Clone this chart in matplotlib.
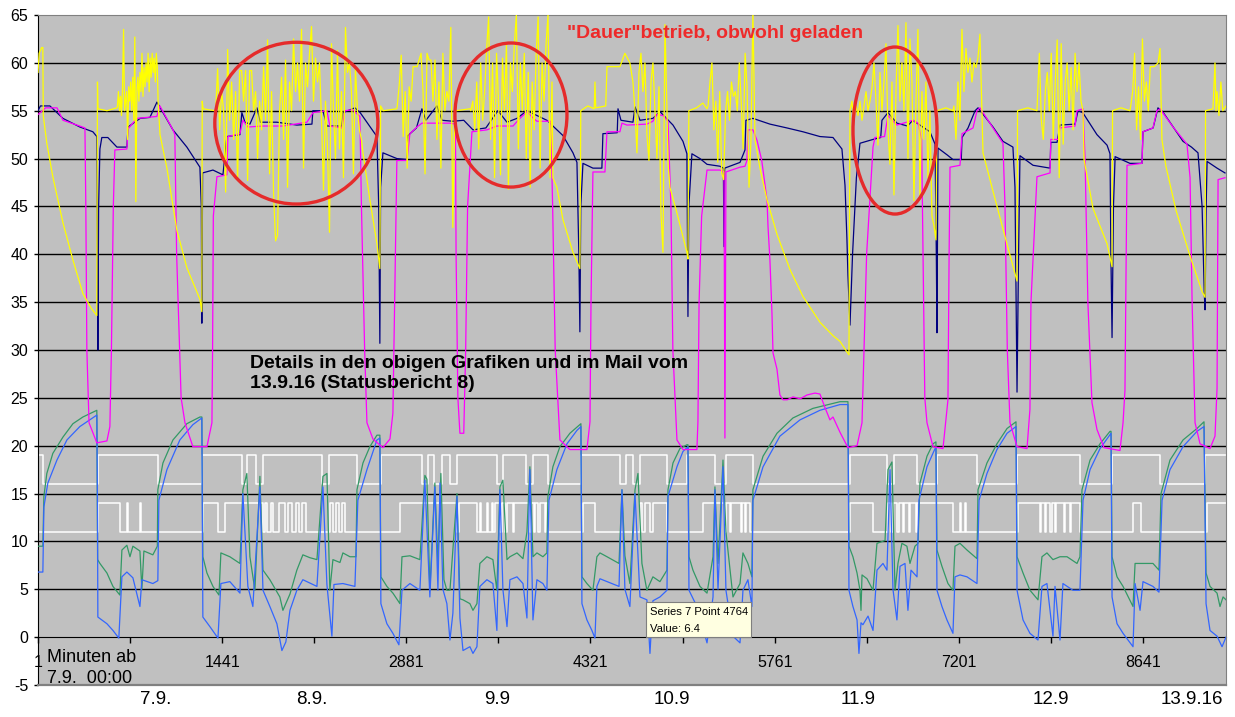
import numpy as np
import matplotlib
matplotlib.use("Agg")
import matplotlib.pyplot as plt
from matplotlib.patches import Ellipse, Rectangle
from matplotlib.transforms import blended_transform_factory

plt.rcParams['font.family'] = ['Liberation Sans', 'DejaVu Sans']

# ---------------- data (minutes since 7.9. 00:00, values) ----------------
x_tick_minutes = [1, 1441, 2881, 4321, 5761, 7201, 8641]
x_minor_minutes = [721, 2161, 3601, 5041, 6481, 7921]
y_ticks = list(range(-5, 70, 5))
date_labels = ["7.9.", "8.9.", "9.9", "10.9", "11.9", "12.9", "13.9.16"]
date_label_minutes = [923, 2143, 3590, 4960, 6413, 7922, 9025]

navy = [(1,55.0),(20,55.5),(94,55.5),(196,54.2),(328,53.3),(430,52.8),(461,52.3),(466,40.0),(469,30.0),(475,45.0),(485,51.0),(500,52.2),(547,52.2),(618,51.2),(696,51.2),(705,53.3),(800,54.2),(876,54.3),(931,55.9),(1056,53.0),(1165,51.2),(1267,49.1),(1278,45.0),(1282,32.8),(1288,48.5),(1369,48.8),(1447,48.3),(1478,52.3),(1580,52.5),(1595,54.8),(1619,53.8),(1658,53.6),(1713,55.3),(1740,53.8),(1869,53.8),(2025,53.5),(2143,53.6),(2150,55.0),(2229,55.0),(2260,53.4),(2377,53.4),(2385,54.8),(2479,55.3),(2520,54.8),(2651,52.3),(2665,45.0),(2674,30.7),(2680,47.0),(2698,50.6),(2807,50.0),(2886,49.9),(2893,52.4),(2960,53.2),(3003,55.2),(3034,54.0),(3120,55.5),(3160,54.0),(3245,53.9),(3330,54.0),(3402,53.0),(3503,53.2),(3597,55.0),(3668,53.8),(3746,54.2),(3824,55.0),(3980,54.0),(4106,52.4),(4184,50.6),(4215,49.6),(4230,40.0),(4238,31.9),(4245,45.0),(4262,49.5),(4340,49.0),(4410,49.0),(4418,52.6),(4530,52.7),(4536,55.2),(4559,54.0),(4653,53.8),(4669,55.4),(4708,54.0),(4809,54.2),(4864,54.9),(4966,53.5),(5044,51.8),(5075,50.5),(5080,40.0),(5083,33.5),(5090,45.0),(5114,50.5),(5177,50.0),(5232,49.4),(5333,49.2),(5360,49.0),(5365,40.8),(5370,49.0),(5490,49.6),(5529,50.9),(5536,54.0),(5591,54.2),(5724,53.6),(5857,53.2),(5982,52.8),(6115,52.3),(6217,52.2),(6287,51.0),(6311,47.2),(6326,41.6),(6334,37.8),(6350,32.6),(6370,40.0),(6400,48.0),(6428,51.6),(6530,52.0),(6590,52.2),(6600,54.0),(6647,54.8),(6717,53.7),(6800,53.4),(6840,54.0),(6897,53.5),(6975,52.8),(7015,51.5),(7025,40.0),(7030,31.8),(7035,45.0),(7038,51.1),(7108,50.4),(7155,49.9),(7220,49.9),(7226,52.2),(7273,53.2),(7328,55.0),(7351,55.3),(7468,53.3),(7546,51.8),(7624,51.2),(7640,47.0),(7656,25.6),(7668,40.0),(7679,50.3),(7781,49.3),(7914,49.0),(7920,51.7),(7969,51.7),(7992,53.5),(8110,53.6),(8133,55.0),(8170,54.8),(8281,52.5),(8360,51.4),(8383,50.5),(8390,40.0),(8399,31.3),(8410,45.0),(8423,50.2),(8539,49.5),(8633,49.5),(8641,52.8),(8720,53.2),(8758,55.3),(8800,54.8),(8954,51.8),(9020,51.2),(9071,50.6),(9103,45.0),(9120,36.0),(9126,34.2),(9135,45.0),(9142,49.7),(9220,49.0),(9282,48.5)]

magenta = [(1,54.6),(60,55.3),(150,55.3),(196,54.0),(328,53.4),(368,53.2),(375,45),(383,30),(400,22.4),(461,20.3),(540,20.5),(563,22),(575,30),(590,45),(602,50.9),(696,51.0),(705,53.1),(774,54.2),(930,54.4),(954,55.5),(1056,53.0),(1071,52.5),(1085,40),(1120,25),(1150,22.4),(1212,19.9),(1322,19.9),(1361,22.4),(1366,30),(1372,44),(1400,48.1),(1478,48.3),(1486,52.3),(1580,52.6),(1603,54.0),(1642,53.3),(1760,53.4),(1916,53.4),(2104,53.8),(2151,54.8),(2260,55.0),(2283,53.4),(2377,53.2),(2401,55.0),(2460,55.1),(2518,54.4),(2530,45),(2555,30),(2573,22.4),(2620,20.7),(2698,19.8),(2753,20.7),(2776,23.4),(2790,35),(2807,49.8),(2886,49.8),(2909,52.6),(2964,53.3),(3003,53.7),(3222,53.7),(3265,53.6),(3270,40),(3284,25),(3300,21.3),(3330,21.3),(3345,30),(3360,45),(3394,52.8),(3511,53.0),(3589,53.4),(3715,53.4),(3769,54.2),(3824,54.9),(3860,54.4),(3902,53.9),(4010,53.9),(4025,45),(4045,30),(4082,20.6),(4160,19.6),(4293,19.6),(4317,22.5),(4325,35),(4340,48.6),(4434,48.6),(4450,52.8),(4551,52.8),(4567,53.7),(4606,53.5),(4762,53.6),(4809,53.9),(4840,54.6),(4888,54.5),(4927,53.9),(4950,45),(4965,30),(4997,20.6),(5044,19.6),(5153,19.6),(5161,22.5),(5170,35),(5190,44),(5232,48.8),(5333,48.8),(5365,48.6),(5372,20.8),(5380,48.6),(5490,49.1),(5529,49.2),(5544,49.8),(5552,53.0),(5591,53.0),(5623,51.9),(5660,49.8),(5701,45.7),(5709,42.9),(5724,39.4),(5740,33.8),(5748,29.7),(5779,28.0),(5802,25.3),(5826,24.8),(5860,24.8),(5904,25.1),(5960,24.9),(6014,25.3),(6076,25.5),(6115,25.4),(6154,24.0),(6193,22.7),(6217,23.0),(6272,21.4),(6311,20.4),(6334,19.8),(6405,20.0),(6444,22.4),(6451,25.8),(6480,40),(6530,51.2),(6545,52.2),(6620,52.3),(6647,54.5),(6717,53.5),(6842,54.0),(6882,53.7),(6910,52),(6921,40),(6935,25),(6952,22.4),(6999,19.9),(7077,19.7),(7116,24.8),(7125,40),(7132,49.1),(7210,49.3),(7226,52.6),(7312,53.2),(7343,55.0),(7366,55.3),(7546,51.6),(7562,45),(7580,30),(7601,22.4),(7656,19.9),(7734,19.7),(7757,23.8),(7765,35),(7812,48.1),(7914,48.5),(7920,52.0),(7977,52.0),(7992,53.2),(8109,53.4),(8125,55.0),(8172,55.2),(8188,50),(8210,35),(8242,24.5),(8281,21.7),(8336,19.8),(8461,19.5),(8485,22.4),(8500,25.8),(8510,40),(8516,49.3),(8633,49.5),(8641,52.8),(8719,53.2),(8750,55.0),(8774,55.2),(8876,53.3),(8985,51.5),(9009,48),(9025,35),(9048,22.4),(9087,20.2),(9165,19.7),(9204,21.0),(9220,26),(9225,40),(9228,47.8),(9282,48.0)]

# yellow: smooth parts as (minute, value), noisy bursts as equally sampled values
yellow_a = [(1,59.0),(10,61.0),(30,61.6),(39,61.6),(42,54.5),(70,51.6),(117,48.1),(196,43.3),(274,39.4),(352,35.9),(420,34.3),(461,33.6),(466,58.0),(470,55.2),(540,55.0),(618,55.3)]
yellow_burst1 = (622, 934, [55.5,57.0,55.0,56.5,54.5,57.5,63.5,55.0,56.0,57.0,52.0,57.5,56.0,58.0,55.0,58.5,54.0,62.7,45.5,57.0,58.5,56.0,59.0,57.0,61.0,56.5,59.5,57.5,60.0,58.0,61.0,57.0,60.5,58.5,61.0,59.0,60.5,58.0,61.0,59.5])
yellow_b = [(940,56),(955,52.5),(1009,49.0),(1087,42.5),(1165,38.6),(1230,36.5),(1267,35.3),(1282,34.0),(1285,56.0),(1292,55.2),(1384,55.0)]
yellow_burst2 = (1390, 2530, [55,59.4,53,57,55,46.5,61.4,54,58,52,57,47.7,59.2,59.2,56,59.2,47.7,59.2,59.2,55,57,50,56,53,59.6,54,62.4,48.4,57,46.3,41.4,42,55,58.5,52,60.3,47,58,55,62.5,57,60,56,63.5,49,60,57.5,61,63.8,56,60.5,58,60,54,46.7,56,51,42.3,62,55,50,61.3,51,57,48,63.7,59,60,57,48.4,59.5,55,53,52])
yellow_c = [(2542,50.6),(2596,45.7),(2651,41.1),(2674,38.5),(2680,55.5),(2700,55.0),(2807,55.2)]
yellow_burst3 = (2810, 3260, [55.5,57.7,60.8,52.3,57,49,57.5,56,59.6,59.6,59.6,60.3,61,57,48.4,61,60.3,60.3,56,60.3,52,58,49,61,55,57,56,63.7,42.8,55])
yellow_d = [(3270,55.0),(3378,55.2)]
yellow_burst4 = (3385, 4020, [55,56,53,58,51,60,54,57,61.5,64.8,52,60,48,61,56,48.3,60.5,55,62,46.8,60,57,62,65,51,60,55,61,50,59,47,58,53,61,64.8,49,60,56,62,65,48,58])
yellow_e = [(4027,48),(4058,47),(4106,43.6),(4184,40.2),(4238,38.5),(4245,55.0),(4300,55.5),(4350,55.2),(4356,58),(4362,55.3),(4440,55.5),(4450,59.6),(4551,59.6),(4590,61.0),(4629,60.0)]
yellow_burst5 = (4653, 4919, [58,55,50.6,59,61,57,60,52.4,49.8,58,60,55,50,57.5,44.3,40.2,64,55])
yellow_f = [(4927,49.5),(4942,47),(4997,44.3),(5075,40.2),(5083,39.5),(5090,55.0),(5150,55.3),(5200,55.8),(5232,55.2)]
yellow_burst6 = (5240, 5591, [55.5,58,60,53,56,49.6,57,48.5,47.8,55,57,54,58,56.5,57,55,60,56,51,61,57.5,47,52,65.5])
yellow_g = [(5607,52),(5646,49),(5701,45.7),(5779,42.1),(5881,38.4),(5982,35.6),(6115,32.9),(6217,31.5),(6272,30.9),(6326,29.8),(6342,29.5)]
yellow_burst7 = (6350, 7022, [55,56,54,55.5,54.5,56,54,55.5,57,55,56,57.4,60,56,51.4,59,55,58,62,53,49.4,58,46.2,57,63.9,56,60,55,64.2,50,62.5,58,45.6,56,63.5,46.1,57,52,58,48,55,44,43,41.5])
yellow_h = [(7030,55.0),(7100,55.3),(7155,55.0)]
yellow_burst8 = (7163, 7366, [55.5,52,58,54,63.5,57,61.5,59,60.5,58,60,59.5,60.5,63])
yellow_i = [(7390,50.6),(7468,46.6),(7577,41.1),(7656,37.2),(7660,55.0),(7740,55.3),(7812,55.0)]
yellow_burst9 = (7815, 8172, [56,61,54,52,57,59,55,61,52,58,62.4,48,62,51.5,58,60,55,59.5,53,61,57,60,56,55])
yellow_j = [(8180,49.9),(8250,44.8),(8360,41.1),(8399,38.7),(8403,55.0),(8470,55.3),(8539,55.0)]
yellow_burst10 = (8545, 8774, [55.5,57,61,53,57.5,52,62.5,56,58,55,59.6,59.6,59.6,59.8,60,61.5])
yellow_k = [(8789,52),(8820,49.2),(8899,44.6),(9009,39.8),(9103,36.1),(9126,35.5),(9130,55.0),(9188,55.2),(9204,60),(9212,55),(9220,57),(9235,54.5),(9250,58),(9265,55),(9290,55.5)]

green = [(1,9.5),(39,9.5),(47,14.7),(70,17.1),(117,19.2),(196,20.9),(274,22.3),(352,23.0),(461,23.7),(467,8.1),(485,7.7),(540,6.7),(587,5.3),(641,4.4),(657,9.1),(696,9.6),(720,8.4),(743,9.5),(798,9.0),(813,5.0),(829,9.0),(899,8.6),(934,9.5),(938,15.4),(978,18.2),(1056,20.6),(1165,22.3),(1267,23.0),(1282,23.0),(1290,8.4),(1322,6.7),(1369,5.3),(1416,4.4),(1431,8.8),(1501,8.4),(1580,7.7),(1603,15.4),(1634,17.1),(1658,8.4),(1697,4.9),(1736,16.8),(1760,7.0),(1814,6.0),(1892,4.2),(1916,2.8),(1971,4.5),(2025,7.0),(2072,8.6),(2127,8.3),(2182,8.1),(2229,16.8),(2260,17.1),(2283,4.9),(2307,8.1),(2362,7.8),(2385,8.8),(2440,8.4),(2487,8.4),(2495,15.4),(2542,18.2),(2596,19.9),(2651,21.1),(2674,21.1),(2682,6.3),(2729,5.3),(2776,4.6),(2831,3.5),(2847,8.4),(2909,8.5),(2987,8.1),(3026,16.9),(3042,16.5),(3065,4.9),(3104,16.1),(3128,7.7),(3151,17.1),(3175,6.0),(3198,4.9),(3222,4.9),(3277,15.0),(3300,4.0),(3324,3.9),(3378,3.5),(3402,2.8),(3433,3.5),(3456,7.7),(3511,8.4),(3558,8.1),(3589,4.9),(3613,15.7),(3636,16.4),(3668,8.1),(3691,8.4),(3746,8.8),(3793,8.2),(3824,11.0),(3847,17.8),(3871,8.4),(3902,8.8),(3949,8.4),(3980,8.8),(3988,14.7),(4027,17.8),(4082,19.9),(4160,21.3),(4246,22.3),(4254,6.3),(4293,5.6),(4340,4.9),(4371,8.4),(4395,8.8),(4450,8.4),(4544,7.7),(4567,15.4),(4590,8.5),(4629,5.6),(4669,15.4),(4692,17.1),(4723,7.7),(4762,4.9),(4809,6.3),(4864,5.8),(4919,7.0),(4927,15.4),(4966,18.2),(5020,19.7),(5075,20.1),(5083,20.1),(5091,8.4),(5122,7.0),(5177,5.3),(5232,4.6),(5279,8.4),(5294,15.7),(5318,7.7),(5357,18.5),(5380,11.0),(5435,4.2),(5490,5.6),(5513,8.8),(5552,7.7),(5583,6.3),(5591,15.4),(5670,18.9),(5779,21.3),(5904,22.9),(6060,23.9),(6272,24.6),(6334,24.6),(6342,9.5),(6373,8.4),(6405,6.7),(6428,4.9),(6436,2.8),(6444,6.5),(6483,6.1),(6530,4.9),(6561,9.8),(6624,10.1),(6647,17.5),(6678,18.3),(6702,4.9),(6725,7.7),(6756,9.8),(6795,9.5),(6819,7.7),(6858,9.5),(6882,9.8),(6897,16.1),(6952,18.9),(6999,20.2),(7022,20.4),(7030,9.1),(7069,7.4),(7116,5.6),(7155,4.9),(7171,9.5),(7210,9.8),(7265,9.1),(7343,8.2),(7351,15.4),(7421,18.2),(7499,20.2),(7578,21.8),(7648,22.5),(7656,8.4),(7703,6.7),(7757,4.9),(7820,3.9),(7851,8.4),(7890,8.8),(7937,8.1),(7992,8.4),(8047,8.4),(8125,7.7),(8148,8.4),(8164,15.4),(8227,18.5),(8305,20.2),(8383,21.5),(8391,21.5),(8399,8.4),(8438,6.3),(8485,5.3),(8563,3.2),(8579,7.7),(8618,7.7),(8719,7.7),(8766,7.0),(8782,15.0),(8852,18.5),(8954,20.6),(9063,21.8),(9118,22.5),(9134,6.7),(9165,5.3),(9220,4.6),(9243,3.2),(9267,4.2),(9290,3.9)]

blue = [(1,6.8),(39,6.8),(47,13.6),(78,16.1),(149,18.5),(227,20.6),(328,22.0),(461,23.2),(466,14.0),(469,2.1),(500,1.8),(540,1.4),(587,0.7),(633,-0.1),(657,6.3),(696,6.8),(743,6.2),(798,3.2),(813,6.0),(899,5.6),(938,5.9),(946,14.3),(1009,17.5),(1110,20.6),(1212,22.2),(1282,22.9),(1290,2.1),(1345,1.1),(1408,-0.1),(1431,5.6),(1501,5.8),(1580,4.6),(1603,15.0),(1642,5.3),(1681,3.2),(1736,15.7),(1760,4.9),(1814,3.2),(1869,1.4),(1908,-1.4),(1939,-0.5),(1971,2.8),(2025,4.9),(2072,6.0),(2182,5.3),(2229,15.7),(2260,5.5),(2299,0.1),(2315,5.5),(2385,5.6),(2479,5.3),(2502,14.3),(2573,17.5),(2651,20.6),(2674,20.8),(2682,3.5),(2729,1.4),(2776,0.4),(2823,-0.8),(2847,4.9),(2909,5.6),(2987,4.9),(3026,16.4),(3065,4.2),(3104,15.7),(3128,4.9),(3144,16.1),(3167,5.0),(3198,3.5),(3222,-0.3),(3245,2.5),(3277,14.7),(3300,2.0),(3324,-1.4),(3378,-1.0),(3402,-1.7),(3433,-1.0),(3456,5.3),(3511,6.0),(3558,5.6),(3589,0.7),(3613,15.4),(3636,5.0),(3668,1.1),(3691,6.0),(3746,6.3),(3793,5.6),(3824,2.0),(3847,17.5),(3871,1.8),(3902,6.0),(3949,5.6),(3980,4.9),(3996,14.3),(4058,17.5),(4137,20.2),(4215,21.6),(4246,22.0),(4254,3.5),(4293,1.8),(4332,0.7),(4356,-0.1),(4371,5.3),(4395,6.1),(4544,5.3),(4567,15.4),(4590,5.0),(4629,3.2),(4669,15.0),(4708,4.2),(4762,3.9),(4786,-1.7),(4809,3.8),(4864,4.2),(4919,4.9),(4927,14.7),(4997,17.8),(5044,19.4),(5083,19.9),(5091,4.9),(5153,3.2),(5232,-0.6),(5279,4.2),(5294,15.4),(5318,5.0),(5357,17.8),(5380,4.9),(5435,0.1),(5490,-0.6),(5513,4.9),(5552,6.0),(5583,3.2),(5591,14.3),(5670,17.8),(5802,21.0),(5959,22.7),(6115,23.7),(6272,24.3),(6334,24.3),(6342,4.9),(6373,3.2),(6405,1.8),(6420,-1.7),(6436,1.5),(6451,1.3),(6491,2.2),(6530,0.7),(6561,7.0),(6608,7.7),(6639,7.0),(6663,17.5),(6686,5.0),(6717,1.8),(6741,7.4),(6780,7.7),(6803,2.8),(6827,7.0),(6874,6.3),(6889,14.3),(6952,17.8),(7015,19.7),(7022,19.7),(7030,4.9),(7069,3.2),(7108,1.8),(7155,0.4),(7171,6.3),(7210,6.5),(7265,6.3),(7343,5.6),(7359,14.3),(7421,17.1),(7499,19.6),(7578,21.3),(7648,22.0),(7656,4.9),(7703,1.8),(7757,0.4),(7820,-0.3),(7851,5.3),(7890,5.6),(7937,0.1),(7953,5.3),(7992,-0.3),(8015,5.6),(8093,4.9),(8148,4.9),(8172,14.3),(8227,17.5),(8305,19.7),(8391,21.3),(8399,4.2),(8438,1.4),(8485,0.4),(8563,-1.0),(8579,5.6),(8618,2.8),(8641,5.8),(8719,5.3),(8766,4.7),(8790,14.3),(8852,17.5),(8954,19.9),(9063,21.5),(9118,22.0),(9134,3.5),(9165,0.7),(9220,0.1),(9259,-1.0),(9290,0.0)]

upper_white = [(1,19),(39,16),(469,19),(938,16),(1282,19),(1595,16),(1634,19),(1705,16),(1760,19),(2221,16),(2276,19),(2495,16),(2682,19),(3003,16),(3050,19),(3097,16),(3159,19),(3222,16),(3277,19),(3589,16),(3636,19),(3816,16),(3871,19),(3988,16),(4246,19),(4551,16),(4598,19),(4653,16),(4708,19),(4919,16),(5075,19),(5294,16),(5380,19),(5591,16),(6350,19),(6639,16),(6694,19),(6874,16),(7030,19),(7343,16),(7656,19),(8148,16),(8399,19),(8774,16),(9126,19),(9290,19)]

lower_white = [(1,11),(469,14),(641,11),(696,14),(708,11),(798,14),(809,11),(1290,14),(1408,11),(1462,14),(1760,11),(1775,14),(1791,11),(1822,14),(1838,11),(1885,14),(1932,11),(1955,14),(1986,11),(2018,14),(2041,11),(2064,14),(2096,11),(2283,14),(2307,11),(2330,14),(2354,11),(2377,14),(2401,11),(2831,14),(3277,11),(3292,14),(3433,11),(3456,14),(3464,11),(3511,14),(3519,11),(3550,14),(3558,11),(3574,14),(3613,11),(3628,14),(3652,11),(3668,14),(3715,11),(3722,14),(3847,11),(3855,14),(3879,11),(3887,14),(3910,11),(3926,14),(3965,11),(3973,14),(3988,11),(4262,14),(4356,11),(4708,14),(4723,11),(4747,14),(4786,11),(4809,14),(4919,11),(5200,14),(5372,11),(5380,14),(5411,11),(5419,14),(5497,11),(5505,14),(5529,11),(5536,14),(5568,11),(6350,14),(6530,11),(6647,14),(6670,11),(6686,14),(6717,11),(6733,14),(6764,11),(6772,14),(6811,11),(6819,14),(6866,11),(6874,14),(7155,11),(7210,14),(7218,11),(7249,14),(7257,11),(7664,14),(7836,11),(7843,14),(7875,11),(7882,14),(7914,11),(7930,14),(7953,11),(7961,14),(8023,11),(8031,14),(8070,11),(8078,14),(8148,11),(8563,14),(8625,11),(9142,14),(9290,14)]

# annotations: ellipses (centre minute, centre value, width minutes, height value)
circles = [(2021, 53.7, 1275, 16.9), (3699, 54.55, 876, 15.05), (6702, 52.93, 657, 17.45)]
tooltip_point = 4764
tooltip_value = 6.4

# ---------------- helpers ----------------
def pairs(p):
    a = np.array(p, dtype=float)
    return a[:, 0], a[:, 1]

def burst(b):
    t0, t1, vals = b
    return np.linspace(t0, t1, len(vals)), np.array(vals, dtype=float)

yellow_parts = [pairs(yellow_a), burst(yellow_burst1), pairs(yellow_b), burst(yellow_burst2),
                pairs(yellow_c), burst(yellow_burst3), pairs(yellow_d), burst(yellow_burst4),
                pairs(yellow_e), burst(yellow_burst5), pairs(yellow_f), burst(yellow_burst6),
                pairs(yellow_g), burst(yellow_burst7), pairs(yellow_h), burst(yellow_burst8),
                pairs(yellow_i), burst(yellow_burst9), pairs(yellow_j), burst(yellow_burst10),
                pairs(yellow_k)]
yx = np.concatenate([p[0] for p in yellow_parts])
yy = np.concatenate([p[1] for p in yellow_parts])

# ---------------- figure ----------------
fig = plt.figure(figsize=(12.35, 7.17), dpi=100)
ax = fig.add_axes([38/1235, 1-685/717, (1226-38)/1235, 670/717])
ax.set_facecolor('#C0C0C0')
ax.set_xlim(1, 9290)
ax.set_ylim(-5, 65)

for g in range(5, 65, 5):
    ax.axhline(g, color='black', lw=1.0, zorder=1)

lw = 0.9
ux, uy = pairs(upper_white)
lx, ly = pairs(lower_white)
ax.step(ux, uy, where='post', color='white', lw=1.1, zorder=2)
ax.step(lx, ly, where='post', color='white', lw=1.1, zorder=2)
gx, gy = pairs(green)
ax.plot(gx, gy, color='#339966', lw=lw, zorder=3)
bx, by = pairs(blue)
ax.plot(bx, by, color='#3366FF', lw=lw, zorder=4)
nx, ny = pairs(navy)
ax.plot(nx, ny, color='#000080', lw=lw, zorder=5)
mx, my = pairs(magenta)
ax.plot(mx, my, color='#FF00FF', lw=lw, zorder=6)
ax.plot(yx, yy, color='#FFFF00', lw=lw, zorder=7)

for cx, cy, w, h in circles:
    ax.add_patch(Ellipse((cx, cy), w, h, fill=False, edgecolor='#E52B2B', lw=2.4, zorder=9))

# spines / axes
for s in ['top', 'right']:
    ax.spines[s].set_color('#808080')
ax.spines['left'].set_color('black')
ax.spines['bottom'].set_position(('data', 0))
ax.spines['bottom'].set_color('black')
ax.spines['bottom'].set_zorder(1.5)
ax.axhline(-5, color='#808080', lw=1.6, zorder=10, clip_on=False)

ax.set_yticks(y_ticks)
ax.set_yticklabels([str(v) for v in y_ticks])
ax.tick_params(axis='y', direction='out', length=3, width=1, labelsize=11.5, pad=4)
ax.set_xticks(x_tick_minutes)
ax.set_xticklabels([str(v) for v in x_tick_minutes])
ax.set_xticks(x_minor_minutes, minor=True)
ax.tick_params(axis='x', which='both', direction='out', length=4, width=1, labelsize=11.5, pad=9)

# texts
ax.text(4137, 63.1, '"Dauer"betrieb, obwohl geladen', color='#EE2A2A', fontsize=14,
        fontweight='bold', ha='left', va='center', zorder=11)
ax.text(1658, 29.45, 'Details in den obigen Grafiken und im Mail vom\n13.9.16 (Statusbericht 8)',
        color='black', fontsize=14, fontweight='bold', ha='left', va='top',
        linespacing=1.22, zorder=11)
ax.text(71, -1.25, 'Minuten ab\n7.9.  00:00', color='black', fontsize=13, ha='left', va='top',
        linespacing=1.3, zorder=11)

trans = blended_transform_factory(ax.transData, ax.transAxes)
for lab, m in zip(date_labels, date_label_minutes):
    ax.text(m, -0.022, lab, transform=trans, ha='center', va='center', fontsize=13.5,
            clip_on=False)

# tooltip
ax.add_patch(Rectangle((tooltip_point - 9, 0.0), 821, 3.67, facecolor='#FFFFE1',
                       edgecolor='#7F7F7F', lw=0.8, zorder=12))
ax.text(tooltip_point + 26, 2.62, 'Series 7 Point %d' % tooltip_point, fontsize=8.1,
        ha='left', va='center', zorder=13)
ax.text(tooltip_point + 26, 0.85, 'Value: %.1f' % tooltip_value, fontsize=8.1,
        ha='left', va='center', zorder=13)

fig.savefig('out.png', dpi=100)
